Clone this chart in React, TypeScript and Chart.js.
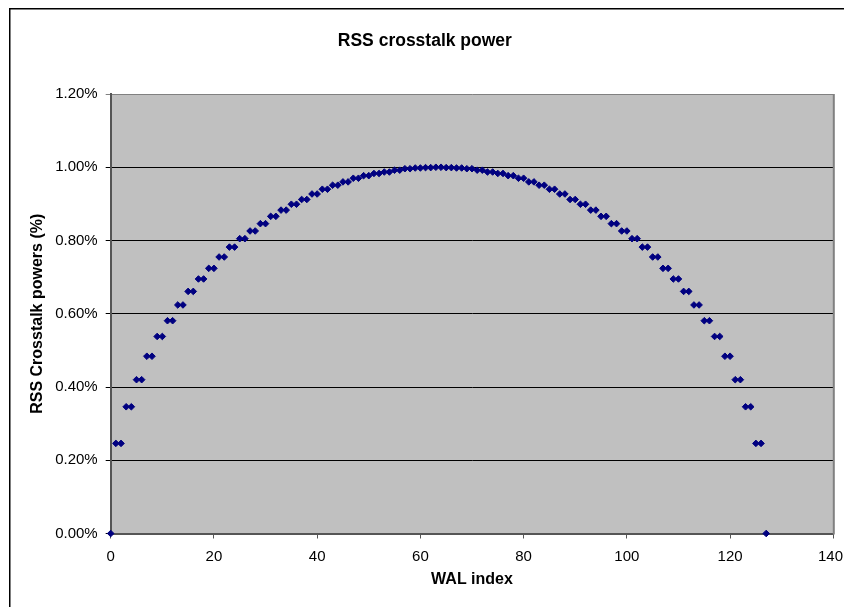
import React, { useEffect, useRef } from "react";
import { Chart, registerables } from "chart.js";

Chart.register(...registerables);

const chartTitle = "RSS crosstalk power";
const xAxisTitle = "WAL index";
const yAxisTitle = "RSS Crosstalk powers (%)";

const walIndex = [
  0, 1, 2, 3, 4, 5, 6, 7, 8, 9, 10, 11, 12, 13, 14, 15, 16, 17, 18, 19,
  20, 21, 22, 23, 24, 25, 26, 27, 28, 29, 30, 31, 32, 33, 34, 35, 36, 37, 38, 39,
  40, 41, 42, 43, 44, 45, 46, 47, 48, 49, 50, 51, 52, 53, 54, 55, 56, 57, 58, 59,
  60, 61, 62, 63, 64, 65, 66, 67, 68, 69, 70, 71, 72, 73, 74, 75, 76, 77, 78, 79,
  80, 81, 82, 83, 84, 85, 86, 87, 88, 89, 90, 91, 92, 93, 94, 95, 96, 97, 98, 99,
  100, 101, 102, 103, 104, 105, 106, 107, 108, 109, 110, 111, 112, 113, 114, 115,
  116, 117, 118, 119, 120, 121, 122, 123, 124, 125, 126, 127,
];

// RSS crosstalk power in percent
const rssPower = [
  0.0,
  0.246, 0.246, 0.346, 0.346, 0.42, 0.42, 0.484, 0.484, 0.538, 0.538,
  0.581, 0.581, 0.624, 0.624, 0.661, 0.661, 0.695, 0.695, 0.724, 0.724,
  0.755, 0.755, 0.782, 0.782, 0.805, 0.805, 0.826, 0.826, 0.846, 0.846,
  0.866, 0.866, 0.883, 0.883, 0.899, 0.899, 0.912, 0.912, 0.927, 0.927,
  0.94, 0.94, 0.951, 0.951, 0.96, 0.96, 0.97, 0.97, 0.977, 0.977,
  0.983, 0.983, 0.987, 0.987, 0.992, 0.992, 0.996, 0.996, 0.998, 0.998,
  0.999, 0.999, 1.0,
  1.0, 0.999, 0.999, 0.998, 0.998, 0.996, 0.996, 0.992, 0.992, 0.987, 0.987,
  0.983, 0.983, 0.977, 0.977, 0.97, 0.97, 0.96, 0.96, 0.951, 0.951,
  0.94, 0.94, 0.927, 0.927, 0.912, 0.912, 0.899, 0.899, 0.883, 0.883,
  0.866, 0.866, 0.846, 0.846, 0.826, 0.826, 0.805, 0.805, 0.782, 0.782,
  0.755, 0.755, 0.724, 0.724, 0.695, 0.695, 0.661, 0.661, 0.624, 0.624,
  0.581, 0.581, 0.538, 0.538, 0.484, 0.484, 0.42, 0.42, 0.346, 0.346,
  0.246, 0.246,
  0.0,
];

const FONT = "'Liberation Sans', Arial, sans-serif";

const framePlugin = {
  id: "excelFrame",
  beforeDraw(chart: any) {
    const { ctx, chartArea } = chart;
    const { left, top, right, bottom } = chartArea;
    ctx.save();
    ctx.fillStyle = "#ffffff";
    ctx.fillRect(0, 0, chart.width, chart.height);
    ctx.fillStyle = "#000000";
    ctx.fillRect(1, 0, 1.5, chart.height);
    ctx.fillRect(1, 0, chart.width, 1.5);
    ctx.fillStyle = "#c0c0c0";
    ctx.fillRect(left, top, right - left, bottom - top);
    ctx.restore();
  },
  beforeDatasetsDraw(chart: any) {
    const { ctx, chartArea } = chart;
    const { top, right, bottom } = chartArea;
    ctx.save();
    ctx.fillStyle = "#808080";
    ctx.fillRect(right - 0.5, top, 2, bottom - top + 1);
    ctx.restore();
  },
  afterDraw(chart: any) {
    // x tick labels, placed from the x scale's own ticks; the last one is kept inside the visible frame
    const { ctx, chartArea } = chart;
    const xs = chart.scales.x;
    ctx.save();
    ctx.fillStyle = "#000";
    ctx.font = `15px ${FONT}`;
    ctx.textAlign = "center";
    ctx.textBaseline = "middle";
    xs.ticks.forEach((t: any) => {
      const label = String(t.value);
      const w = ctx.measureText(label).width;
      let px = xs.getPixelForValue(t.value);
      px = Math.min(px, 835 - w / 2);
      ctx.fillText(label, px, chartArea.bottom + 23);
    });
    ctx.restore();
  },
};

export default function App() {
  const ref = useRef<HTMLCanvasElement | null>(null);

  useEffect(() => {
    document.documentElement.style.overflow = "hidden";
    if (!ref.current) return;
    const points = walIndex.map((x, i) => ({ x, y: rssPower[i] }));
    const chart = new Chart(ref.current, {
      type: "scatter",
      data: {
        datasets: [
          {
            label: "RSS",
            data: points,
            pointStyle: "rectRot",
            pointRadius: 3.3,
            pointBorderWidth: 1,
            backgroundColor: "#000080",
            borderColor: "#000080",
            showLine: false,
            clip: 10,
          } as any,
        ],
      },
      options: {
        animation: false,
        responsive: false,
        devicePixelRatio: 1,
        layout: { padding: { left: 8.4, right: 18.7, top: 0, bottom: 0 } },
        plugins: {
          legend: { display: false },
          tooltip: { enabled: false },
          title: {
            display: true,
            text: chartTitle,
            color: "#000",
            font: { family: FONT, size: 17.5, weight: "bold" },
            padding: { top: 22.5, bottom: 42.5 },
          },
        },
        scales: {
          x: {
            type: "linear",
            min: 0,
            max: 140,
            ticks: {
              stepSize: 20,
              color: "rgba(0,0,0,0)",
              font: { family: FONT, size: 15 },
              padding: 10,
            },
            grid: {
              drawOnChartArea: false,
              drawTicks: true,
              tickLength: 5,
              color: "#555555",
              lineWidth: 1,
            },
            border: { display: true, color: "#555555", width: 2 },
            title: {
              display: true,
              text: xAxisTitle,
              color: "#000",
              font: { family: FONT, size: 16, weight: "bold" },
              padding: { top: 0, bottom: 18 },
            },
            afterFit: (s: any) => {
              s.height = 73.5;
              s.paddingLeft = 0;
              s.paddingRight = 0;
            },
          },
          y: {
            type: "linear",
            min: 0,
            max: 1.2,
            ticks: {
              stepSize: 0.2,
              color: "#000",
              font: { family: FONT, size: 15 },
              padding: 8,
              callback: (v: any) => Number(v).toFixed(2) + "%",
            },
            grid: {
              color: (c: any) => {
                const v = c.tick ? c.tick.value : 0;
                if (v > 1.19) return "#808080";
                return "#000000";
              },
              lineWidth: 1,
              tickLength: 5,
              drawTicks: true,
            },
            border: { display: true, color: "#555555", width: 2 },
            title: {
              display: true,
              text: yAxisTitle,
              color: "#000",
              font: { family: FONT, size: 16, weight: "bold" },
              padding: { top: 12, bottom: 0 },
            },
            afterFit: (s: any) => {
              s.width = 94.3;
              s.paddingTop = 0;
              s.paddingBottom = 0;
            },
          },
        },
      },
      plugins: [framePlugin],
    });
    return () => chart.destroy();
  }, []);

  return (
    <div style={{ width: 844, height: 599, position: "relative" }}>
      <canvas
        ref={ref}
        width={844}
        height={599}
        style={{ display: "block", width: 844, height: 599 }}
      />
    </div>
  );
}
